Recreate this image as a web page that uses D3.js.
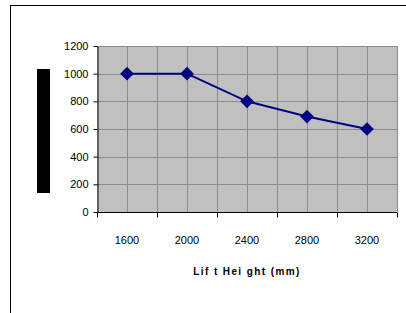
<!DOCTYPE html>
<html>
<head>
<meta charset="utf-8">
<script src="https://cdn.jsdelivr.net/npm/d3@7"></script>
<style>
  body { margin: 0; background: #fff; }
  svg { display: block; font-family: "Liberation Sans", Arial, sans-serif; }
</style>
</head>
<body>
<div id="chart"></div>
<script>
// data
var categories = ["1600", "2000", "2400", "2800", "3200"];
var values = [1000, 1000, 800, 690, 600];
var yTicks = [0, 200, 400, 600, 800, 1000, 1200];
var xTitle = "Lif t Hei ght (mm)";

var width = 406, height = 313;
var margin = { left: 97, right: 9, top: 46, bottom: 101 };
var plotW = width - margin.left - margin.right;
var plotH = height - margin.top - margin.bottom;

var svg = d3.select("#chart").append("svg")
    .attr("width", width)
    .attr("height", height);

// outer frame (runs off the right and bottom edge)
svg.append("rect")
    .attr("x", 10.5).attr("y", 5.5)
    .attr("width", 420).attr("height", 330)
    .attr("fill", "none").attr("stroke", "#000").attr("stroke-width", 1);

var g = svg.append("g").attr("transform", "translate(" + margin.left + "," + margin.top + ")");

var x = d3.scaleBand().domain(categories).range([0, plotW]);
var y = d3.scaleLinear().domain([0, 1200]).range([plotH, 0]);

g.append("rect")
    .attr("width", plotW).attr("height", plotH)
    .attr("fill", "#c0c0c0");

// gridlines: horizontal every 200, vertical at band centres and band edges
g.selectAll(".hg").data(yTicks.slice(1)).enter().append("line")
    .attr("x1", 0).attr("x2", plotW)
    .attr("y1", function(d) { return Math.round(y(d)) + 0.5; })
    .attr("y2", function(d) { return Math.round(y(d)) + 0.5; })
    .attr("stroke", "#8c8c8c");

var vlines = [];
categories.forEach(function(c, i) {
  if (i > 0) vlines.push(x(c));
  vlines.push(x(c) + x.bandwidth() / 2);
});
vlines.push(plotW);
g.selectAll(".vg").data(vlines).enter().append("line")
    .attr("x1", function(d) { return Math.round(d) + 0.5; })
    .attr("x2", function(d) { return Math.round(d) + 0.5; })
    .attr("y1", 0).attr("y2", plotH)
    .attr("stroke", "#8c8c8c");

// y axis
var yAxis = d3.axisLeft(y).tickValues(yTicks).tickFormat(d3.format("d"))
    .tickSize(4).tickPadding(5).tickSizeOuter(0);
var ya = g.append("g").attr("transform", "translate(0.5,0)").call(yAxis);
ya.select(".domain").attr("stroke", "#000");
ya.selectAll("text").attr("font-size", "11px").attr("fill", "#000");

// x axis: ticks on band edges, labels in band centres
var edges = categories.map(function(c) { return x(c); }).concat([plotW]);
var xa = g.append("g").attr("transform", "translate(0," + (plotH + 0.5) + ")");
xa.append("line").attr("x1", 0).attr("x2", plotW).attr("stroke", "#000");
xa.selectAll(".tk").data(edges).enter().append("line")
    .attr("x1", function(d) { return Math.round(d) + 0.5; })
    .attr("x2", function(d) { return Math.round(d) + 0.5; })
    .attr("y1", 0).attr("y2", 5)
    .attr("stroke", "#000");
xa.selectAll(".lb").data(categories).enter().append("text")
    .attr("x", function(d) { return x(d) + x.bandwidth() / 2; })
    .attr("y", 31)
    .attr("text-anchor", "middle")
    .attr("font-size", "11px")
    .attr("fill", "#000")
    .text(function(d) { return d; });

// axis title
svg.append("text")
    .attr("x", margin.left + plotW / 2)
    .attr("y", 275)
    .attr("text-anchor", "middle")
    .attr("font-size", "10px")
    .attr("font-weight", "bold")
    .attr("letter-spacing", "1.4px")
    .attr("fill", "#000")
    .text(xTitle);

// redacted y title block
svg.append("rect")
    .attr("x", 37).attr("y", 69)
    .attr("width", 13).attr("height", 124)
    .attr("fill", "#000");

// series
var line = d3.line()
    .x(function(d, i) { return x(categories[i]) + x.bandwidth() / 2; })
    .y(function(d) { return y(d); });

g.append("path")
    .datum(values)
    .attr("d", line)
    .attr("fill", "none")
    .attr("stroke", "#000080")
    .attr("stroke-width", 2);

var diamond = d3.symbol().type(d3.symbolDiamond2).size(120);
g.selectAll(".pt").data(values).enter().append("path")
    .attr("transform", function(d, i) {
      return "translate(" + (x(categories[i]) + x.bandwidth() / 2) + "," + y(d) + ")";
    })
    .attr("d", diamond)
    .attr("fill", "#000080");
</script>
</body>
</html>
